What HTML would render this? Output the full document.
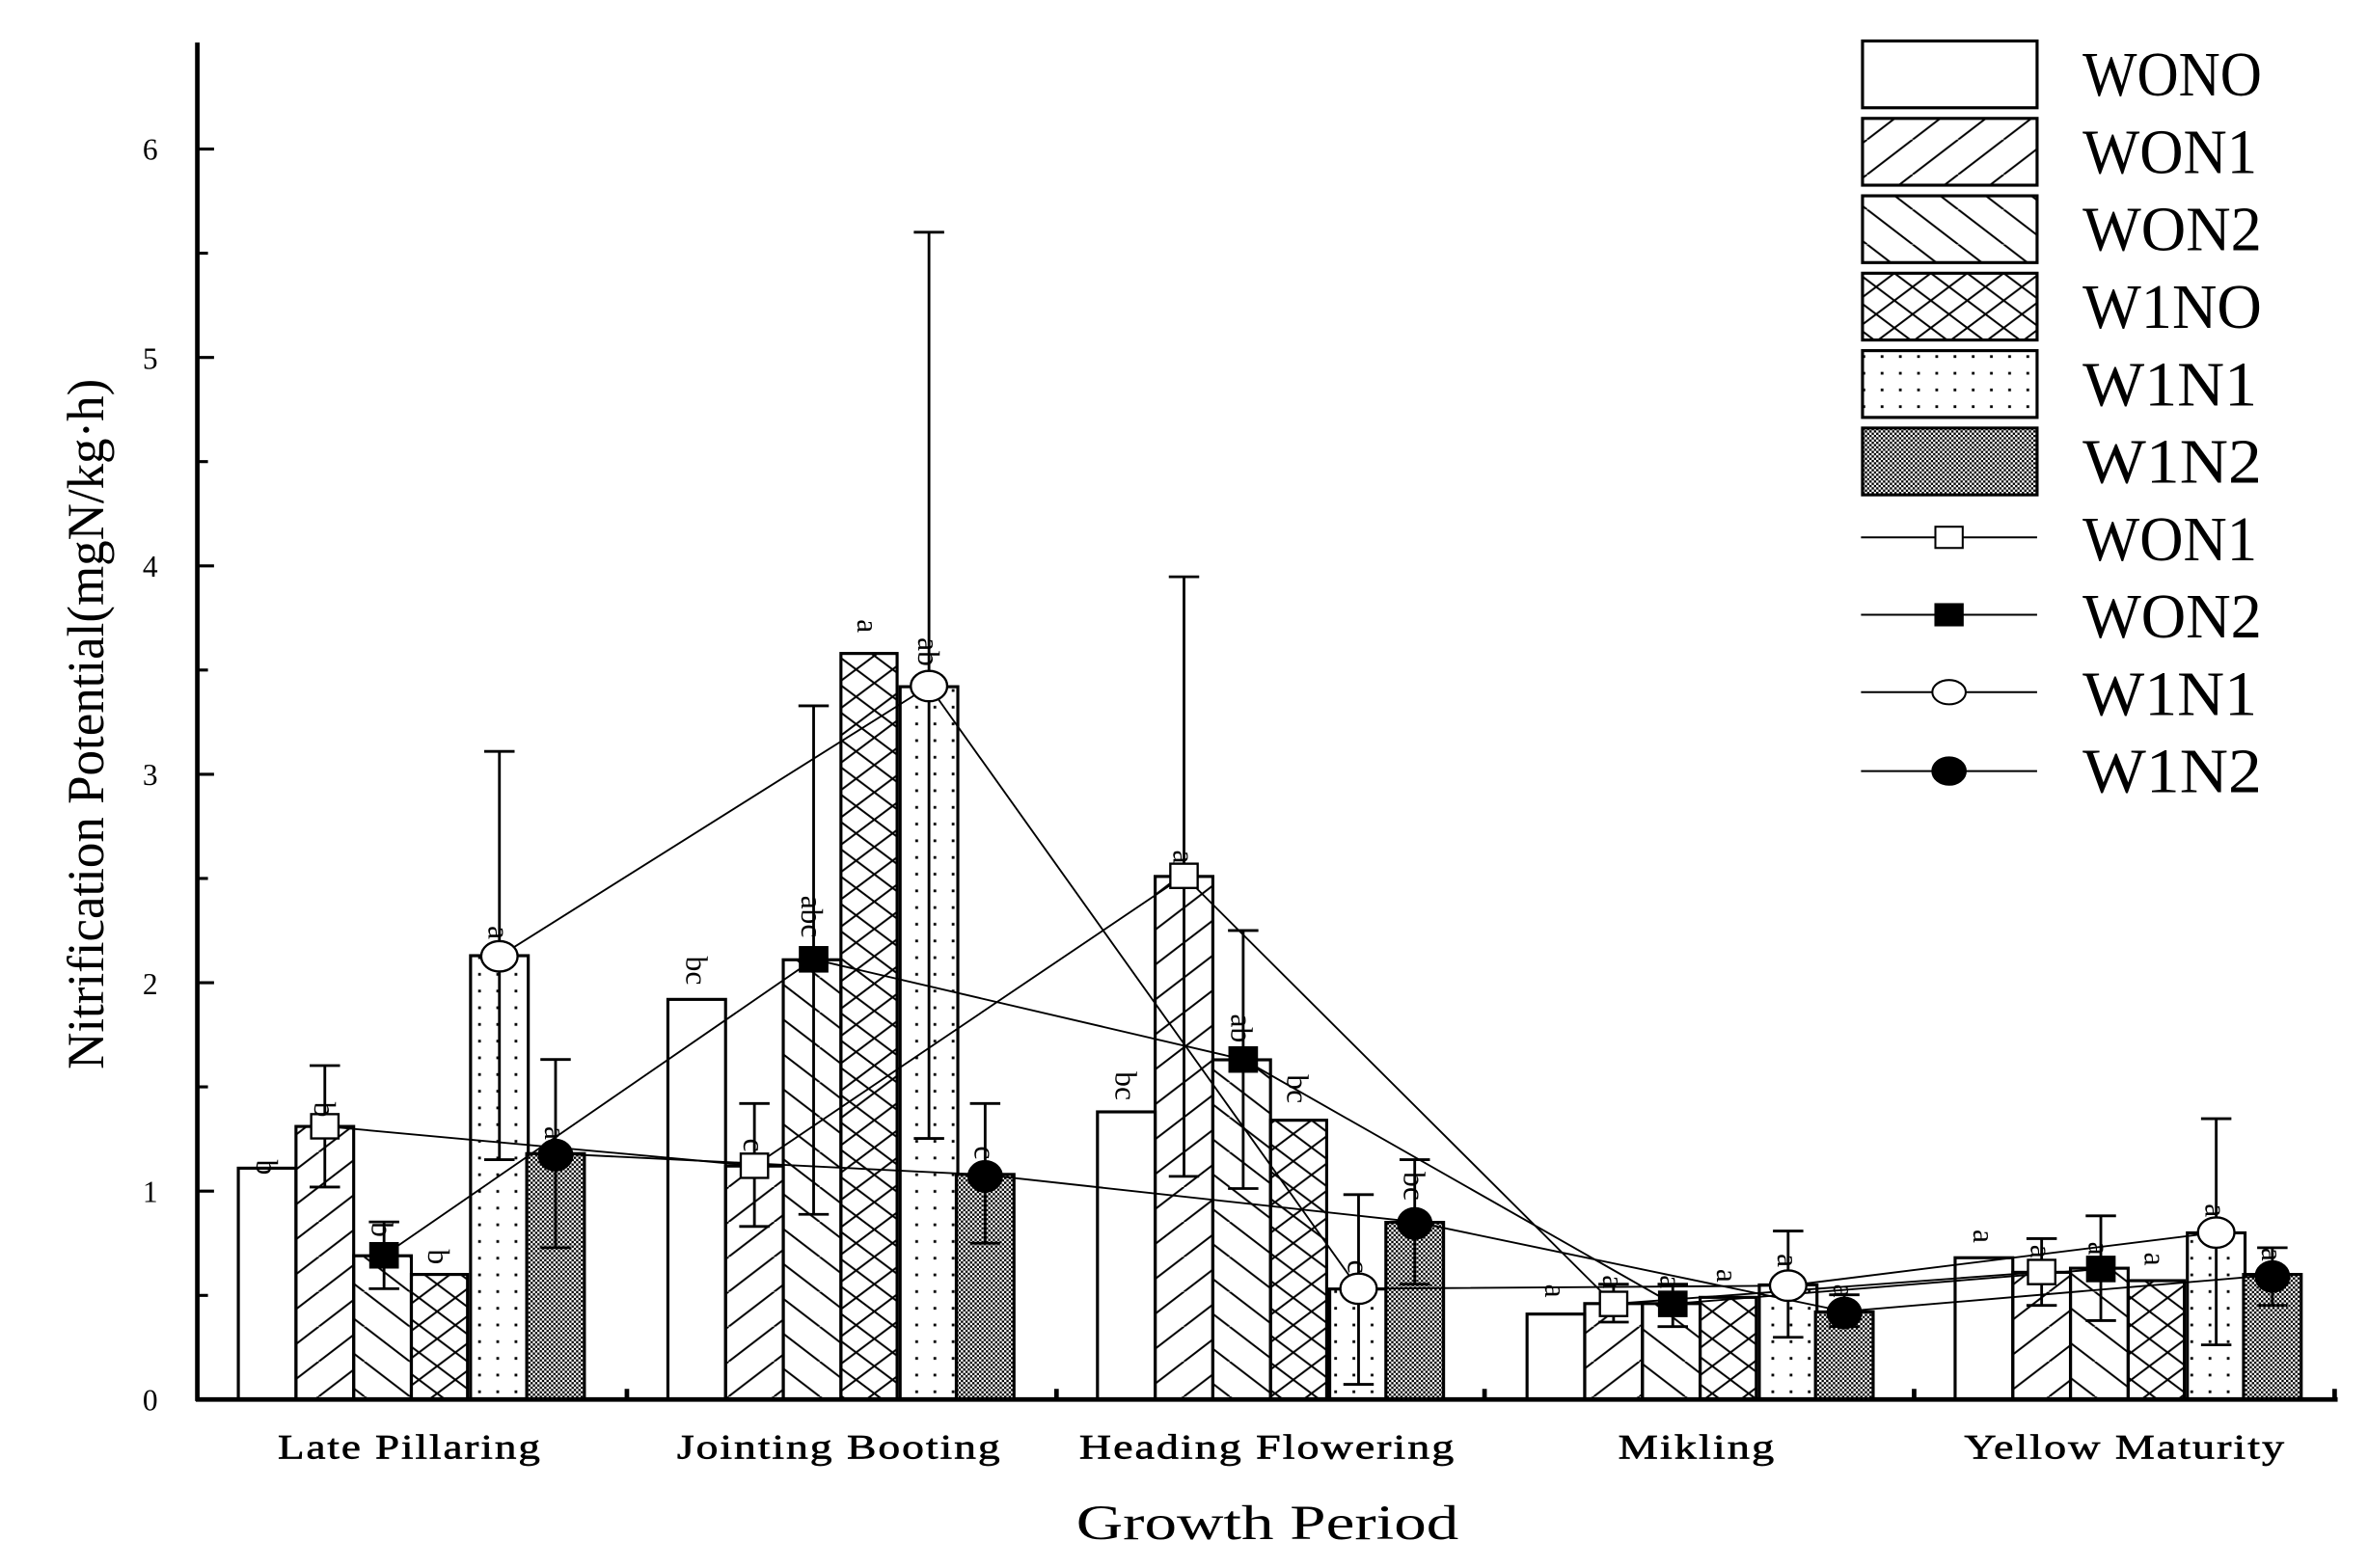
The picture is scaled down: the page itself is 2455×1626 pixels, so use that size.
<!DOCTYPE html>
<html><head><meta charset="utf-8"><style>html,body{margin:0;padding:0;background:#fff}svg{display:block}</style></head>
<body>
<svg width="2455" height="1626" viewBox="0 0 1560 1033" preserveAspectRatio="none" xmlns="http://www.w3.org/2000/svg" font-family="Liberation Serif, serif">
<defs>
<pattern id="p1" patternUnits="userSpaceOnUse" width="30" height="23"><path d="M-30,23 L0,0 M0,23 L30,0 M30,23 L60,0" stroke="#000" stroke-width="1.3"/></pattern>
<pattern id="p2" patternUnits="userSpaceOnUse" width="30" height="23"><path d="M-30,0 L0,23 M0,0 L30,23 M30,0 L60,23" stroke="#000" stroke-width="1.3"/></pattern>
<pattern id="p3" patternUnits="userSpaceOnUse" width="24" height="18"><path d="M0,0 L24,18 M0,18 L24,0" stroke="#000" stroke-width="1.3"/></pattern>
<pattern id="p4" patternUnits="userSpaceOnUse" width="12" height="11"><rect x="3" y="3" width="1.8" height="1.8" fill="#000"/></pattern>
<pattern id="p5" patternUnits="userSpaceOnUse" width="3" height="3"><rect width="3" height="3" fill="#fff"/><rect x="0" y="0" width="1.5" height="1.5" fill="#000"/><rect x="1.5" y="1.5" width="1.5" height="1.5" fill="#000"/></pattern>
</defs>
<rect width="1560" height="1033" fill="#fff"/>

<g stroke="#000" stroke-width="2">
<rect x="157" y="769.6" width="38" height="152.4" fill="#fff"/>
<rect x="195" y="742.1" width="38" height="179.9" fill="url(#p1)"/>
<rect x="233" y="827.3" width="38" height="94.7" fill="url(#p2)"/>
<rect x="271" y="839.6" width="37" height="82.4" fill="url(#p3)"/>
<rect x="310" y="629.6" width="38" height="292.4" fill="url(#p4)"/>
<rect x="347" y="760" width="38" height="162" fill="url(#p5)"/>
<rect x="440" y="658.4" width="38" height="263.6" fill="#fff"/>
<rect x="478" y="768.2" width="38" height="153.8" fill="url(#p1)"/>
<rect x="516" y="632.3" width="38" height="289.7" fill="url(#p2)"/>
<rect x="554" y="430.5" width="37" height="491.5" fill="url(#p3)"/>
<rect x="593" y="452.4" width="38" height="469.6" fill="url(#p4)"/>
<rect x="630" y="773.7" width="38" height="148.3" fill="url(#p5)"/>
<rect x="723" y="732.5" width="38" height="189.5" fill="#fff"/>
<rect x="761" y="577.4" width="38" height="344.6" fill="url(#p1)"/>
<rect x="799" y="698.2" width="38" height="223.8" fill="url(#p2)"/>
<rect x="837" y="738" width="37" height="184" fill="url(#p3)"/>
<rect x="876" y="849.2" width="38" height="72.8" fill="url(#p4)"/>
<rect x="913" y="805.3" width="38" height="116.7" fill="url(#p5)"/>
<rect x="1006" y="865.7" width="38" height="56.3" fill="#fff"/>
<rect x="1044" y="858.8" width="38" height="63.2" fill="url(#p1)"/>
<rect x="1082" y="858.8" width="38" height="63.2" fill="url(#p2)"/>
<rect x="1120" y="854.7" width="37" height="67.3" fill="url(#p3)"/>
<rect x="1159" y="846.5" width="38" height="75.5" fill="url(#p4)"/>
<rect x="1196" y="864.3" width="38" height="57.7" fill="url(#p5)"/>
<rect x="1288" y="828.6" width="38" height="93.4" fill="#fff"/>
<rect x="1326" y="838.2" width="38" height="83.8" fill="url(#p1)"/>
<rect x="1364" y="835.5" width="38" height="86.5" fill="url(#p2)"/>
<rect x="1402" y="843.7" width="37" height="78.3" fill="url(#p3)"/>
<rect x="1441" y="812.2" width="38" height="109.8" fill="url(#p4)"/>
<rect x="1478" y="839.6" width="38" height="82.4" fill="url(#p5)"/>
</g>

<g fill="none" stroke="#000" stroke-width="1.2">
<polyline points="214,742 497,768 780,577 1063,859 1345,838"/>
<polyline points="253,827 536,632 819,698 1102,859 1384,836"/>
<polyline points="329,630 612,452 895,849 1178,847 1460,812"/>
<polyline points="366,760 649,774 932,805 1215,864 1497,840"/>
</g>

<g stroke="#000" stroke-width="1.8">
<path d="M214,782V702M204,782h20M204,702h20 M497,808V727M487,808h20M487,727h20 M780,775V380M770,775h20M770,380h20 M1063,871V846M1053,871h20M1053,846h20 M1345,860V816M1335,860h20M1335,816h20"/>
<path d="M253,849V805M243,849h20M243,805h20 M536,800V465M526,800h20M526,465h20 M819,783V613M809,783h20M809,613h20 M1102,874V846M1092,874h20M1092,846h20 M1384,870V801M1374,870h20M1374,801h20"/>
<path d="M329,764V495M319,764h20M319,495h20 M612,750V153M602,750h20M602,153h20 M895,912V787M885,912h20M885,787h20 M1178,881V811M1168,881h20M1168,811h20 M1460,886V737M1450,886h20M1450,737h20"/>
<path d="M366,822V698M356,822h20M356,698h20 M649,819V727M639,819h20M639,727h20 M932,846V764M922,846h20M922,764h20 M1215,874V853M1205,874h20M1205,853h20 M1497,860V822M1487,860h20M1487,822h20"/>
</g>

<g stroke="#000" stroke-width="1.5">
<g fill="#fff"><rect x="205" y="734" width="18" height="16"/><rect x="488" y="760" width="18" height="16"/><rect x="771" y="569" width="18" height="16"/><rect x="1054" y="851" width="18" height="16"/><rect x="1336" y="830" width="18" height="16"/></g>
<g fill="#000"><rect x="244" y="819" width="18" height="16"/><rect x="527" y="624" width="18" height="16"/><rect x="810" y="690" width="18" height="16"/><rect x="1093" y="851" width="18" height="16"/><rect x="1375" y="828" width="18" height="16"/></g>
<g fill="#fff"><ellipse cx="329" cy="630" rx="12" ry="10"/><ellipse cx="612" cy="452" rx="12" ry="10"/><ellipse cx="895" cy="849" rx="12" ry="10"/><ellipse cx="1178" cy="847" rx="12" ry="10"/><ellipse cx="1460" cy="812" rx="12" ry="10"/></g>
<g fill="#000"><ellipse cx="366" cy="761" rx="11" ry="10"/><ellipse cx="649" cy="775" rx="11" ry="10"/><ellipse cx="932" cy="806" rx="11" ry="10"/><ellipse cx="1215" cy="865" rx="11" ry="10"/><ellipse cx="1497" cy="841" rx="11" ry="10"/></g>
</g>

<g font-size="20" fill="#000">
<text transform="translate(169,764) rotate(90)">b</text>
<text transform="translate(207,726) rotate(90)">b</text>
<text transform="translate(245,805) rotate(90)">b</text>
<text transform="translate(282,823) rotate(90)">b</text>
<text transform="translate(322,610) rotate(90)">a</text>
<text transform="translate(359,742) rotate(90)">a</text>
<text transform="translate(452,630) rotate(90)">bc</text>
<text transform="translate(490,750) rotate(90)">c</text>
<text transform="translate(528,590) rotate(90)">abc</text>
<text transform="translate(565,408) rotate(90)">a</text>
<text transform="translate(605,420) rotate(90)">ab</text>
<text transform="translate(642,755) rotate(90)">c</text>
<text transform="translate(735,706) rotate(90)">bc</text>
<text transform="translate(773,560) rotate(90)">a</text>
<text transform="translate(811,668) rotate(90)">ab</text>
<text transform="translate(848,708) rotate(90)">bc</text>
<text transform="translate(888,830) rotate(90)">c</text>
<text transform="translate(925,772) rotate(90)">bc</text>
<text transform="translate(1018,846) rotate(90)">a</text>
<text transform="translate(1056,840) rotate(90)">a</text>
<text transform="translate(1094,840) rotate(90)">a</text>
<text transform="translate(1131,836) rotate(90)">a</text>
<text transform="translate(1171,826) rotate(90)">a</text>
<text transform="translate(1208,846) rotate(90)">a</text>
<text transform="translate(1300,810) rotate(90)">a</text>
<text transform="translate(1338,820) rotate(90)">a</text>
<text transform="translate(1376,818) rotate(90)">a</text>
<text transform="translate(1413,825) rotate(90)">a</text>
<text transform="translate(1453,793) rotate(90)">a</text>
<text transform="translate(1490,822) rotate(90)">a</text>
</g>

<g stroke="#000">
<path d="M130,28V923" stroke-width="3"/>
<path d="M129,922H1540" stroke-width="3"/>
<path d="M130,784.7h11M130,647.4h11M130,510.1h11M130,372.8h11M130,235.5h11M130,98.2h11" stroke-width="2"/>
<path d="M130,853.4h7M130,716h7M130,578.7h7M130,441.4h7M130,304.1h7M130,166.8h7" stroke-width="2"/>
<path d="M413,922v-7M696,922v-7M978,922v-7M1261,922v-7M1538,922v-7" stroke-width="3"/>
</g>
<g font-size="20" text-anchor="end" fill="#000">
<text x="104" y="929">0</text><text x="104" y="792">1</text><text x="104" y="655">2</text><text x="104" y="517">3</text><text x="104" y="380">4</text><text x="104" y="243">5</text><text x="104" y="105">6</text>
</g>
<g font-size="23" text-anchor="middle" fill="#000" stroke="#000" stroke-width="0.4" letter-spacing="1">
<text x="270" y="961" textLength="174" lengthAdjust="spacingAndGlyphs">Late Pillaring</text>
<text x="553" y="961" textLength="214" lengthAdjust="spacingAndGlyphs">Jointing Booting</text>
<text x="835" y="961" textLength="248" lengthAdjust="spacingAndGlyphs">Heading Flowering</text>
<text x="1118" y="961" textLength="104" lengthAdjust="spacingAndGlyphs">Mikling</text>
<text x="1400" y="961" textLength="212" lengthAdjust="spacingAndGlyphs">Yellow Maturity</text>
</g>
<text x="835" y="1014" font-size="32" text-anchor="middle" textLength="252" lengthAdjust="spacingAndGlyphs">Growth Period</text>
<text transform="translate(68,477) rotate(-90)" font-size="34" text-anchor="middle" textLength="455" lengthAdjust="spacingAndGlyphs">Nitrification Potential(mgN/kg·h)</text>

<g stroke="#000" stroke-width="2">
<rect x="1227" y="27" width="115" height="44" fill="#fff"/>
<rect x="1227" y="78" width="115" height="44" fill="url(#p1)"/>
<rect x="1227" y="129" width="115" height="44" fill="url(#p2)"/>
<rect x="1227" y="180" width="115" height="44" fill="url(#p3)"/>
<rect x="1227" y="231" width="115" height="44" fill="url(#p4)"/>
<rect x="1227" y="282" width="115" height="44" fill="url(#p5)"/>
</g>
<g stroke="#000" stroke-width="1.3">
<path d="M1226,354h116M1226,405h116M1226,456h116M1226,508h116"/>
<rect x="1275" y="347" width="18" height="14" fill="#fff"/>
<rect x="1275" y="398" width="18" height="14" fill="#000"/>
<ellipse cx="1284" cy="456" rx="11" ry="8" fill="#fff"/>
<ellipse cx="1284" cy="508" rx="11" ry="9" fill="#000"/>
</g>
<g font-size="42" fill="#000" lengthAdjust="spacingAndGlyphs">
<text x="1372" y="63" textLength="118" lengthAdjust="spacingAndGlyphs">WONO</text>
<text x="1372" y="114" textLength="115" lengthAdjust="spacingAndGlyphs">WON1</text>
<text x="1372" y="165" textLength="118" lengthAdjust="spacingAndGlyphs">WON2</text>
<text x="1372" y="216" textLength="118" lengthAdjust="spacingAndGlyphs">W1NO</text>
<text x="1372" y="267" textLength="115" lengthAdjust="spacingAndGlyphs">W1N1</text>
<text x="1372" y="318" textLength="118" lengthAdjust="spacingAndGlyphs">W1N2</text>
<text x="1372" y="369" textLength="115" lengthAdjust="spacingAndGlyphs">WON1</text>
<text x="1372" y="420" textLength="118" lengthAdjust="spacingAndGlyphs">WON2</text>
<text x="1372" y="471" textLength="115" lengthAdjust="spacingAndGlyphs">W1N1</text>
<text x="1372" y="522" textLength="118" lengthAdjust="spacingAndGlyphs">W1N2</text>
</g>
</svg>
</body></html>
